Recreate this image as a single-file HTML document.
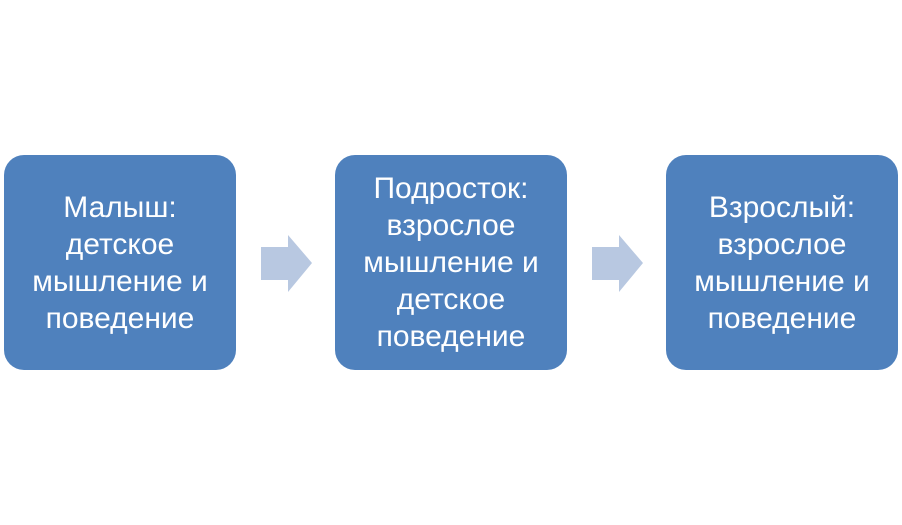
<!DOCTYPE html>
<html><head><meta charset="utf-8"><style>
body{margin:0;width:902px;height:525px;background:#fff;position:relative;overflow:hidden;font-family:"Liberation Sans",sans-serif}
.b{position:absolute;top:155px;width:232px;height:215px;background:#4F81BD;border-radius:20px;display:flex;align-items:center;justify-content:center;text-align:center;color:#fff;font-size:30px;line-height:37px}
.a{position:absolute;top:235px}
</style></head><body>
<div class="b" style="left:4px">Малыш:<br>детское<br>мышление и<br>поведение</div>
<div class="b" style="left:335px">Подросток:<br>взрослое<br>мышление и<br>детское<br>поведение</div>
<div class="b" style="left:666px">Взрослый:<br>взрослое<br>мышление и<br>поведение</div>
<svg class="a" style="left:261px" width="52" height="58"><polygon points="0,12 27,12 27,0 51,28 27,57 27,45 0,45" fill="#B8C8E1"/></svg>
<svg class="a" style="left:592px" width="52" height="58"><polygon points="0,12 27,12 27,0 51,28 27,57 27,45 0,45" fill="#B8C8E1"/></svg>
</body></html>
